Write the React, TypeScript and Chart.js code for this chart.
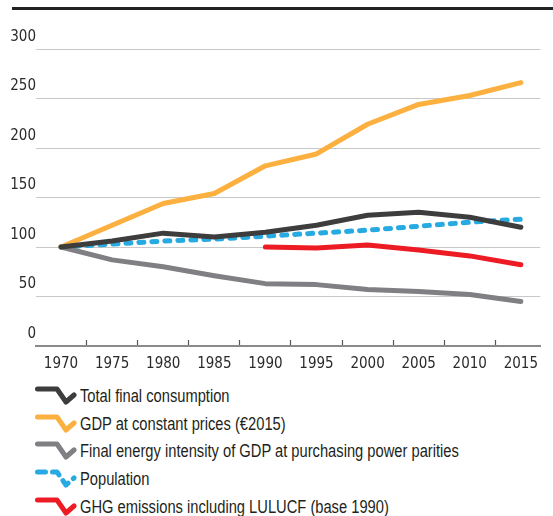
import React, { useEffect, useRef } from 'react';
import { Chart, registerables } from 'chart.js';

Chart.register(...registerables);

const years = [1970, 1975, 1980, 1985, 1990, 1995, 2000, 2005, 2010, 2015];
const yTicks = [0, 50, 100, 150, 200, 250, 300];

const totalFinalConsumption = [100, 106, 114, 110, 115, 122, 132, 135, 130, 120];
const gdpConstantPrices = [100, 122, 144, 154, 182, 194, 224, 244, 253, 266];
const finalEnergyIntensity = [100, 87, 80, 71, 63, 62, 57, 55, 52, 45];
const population = [100, 103, 106, 108, 111, 114, 117, 121, 125, 128];
const ghgEmissions = [null, null, null, null, 100, 99, 102, 97, 91, 82];

const seriesNames = [
  'Total final consumption',
  'GDP at constant prices (€2015)',
  'Final energy intensity of GDP at purchasing power parities',
  'Population',
  'GHG emissions including LULUCF (base 1990)',
];
const seriesColors = ['#3d3d3d', '#fbb040', '#808084', '#27aae1', '#ed1c24'];
const seriesDashed = [false, false, false, true, false];

const TICK_FONT = '"DejaVu Sans Condensed", "Liberation Sans", sans-serif';
const LEGEND_FONT = '"Liberation Sans", "DejaVu Sans Condensed", sans-serif';

function LegendIcon({ color, dashed }: { color: string; dashed: boolean }) {
  return (
    <svg width={42} height={22} style={{ display: 'block', flex: 'none' }}>
      <polyline
        points="2.5,4 22,4 31,17 39,10"
        fill="none"
        stroke={color}
        strokeWidth={5}
        strokeLinecap="round"
        strokeLinejoin="round"
        strokeDasharray={dashed ? '8 7' : undefined}
      />
    </svg>
  );
}

export default function App() {
  const ref = useRef<HTMLCanvasElement>(null);

  useEffect(() => {
    const toPts = (arr: (number | null)[]) => years.map((y, i) => ({ x: y, y: arr[i] }));
    const all = [totalFinalConsumption, gdpConstantPrices, finalEnergyIntensity, population, ghgEmissions];
    const chart = new Chart(ref.current as HTMLCanvasElement, {
      type: 'line',
      data: {
        datasets: all.map((arr, i) => ({
          label: seriesNames[i],
          data: toPts(arr) as any,
          borderColor: seriesColors[i],
          backgroundColor: seriesColors[i],
          borderWidth: 5,
          borderDash: seriesDashed[i] ? [5, 8] : [],
          borderCapStyle: 'round',
          borderJoinStyle: 'round',
          pointRadius: 0,
          tension: 0,
          spanGaps: false,
          fill: false,
        })),
      },
      options: {
        animation: false,
        responsive: false,
        maintainAspectRatio: false,
        layout: { padding: { top: 49, left: 0, right: 0, bottom: 0 } },
        plugins: { legend: { display: false }, tooltip: { enabled: false } },
        scales: {
          x: {
            type: 'linear',
            position: 'bottom',
            min: 1967.55,
            max: 2016.9,
            afterBuildTicks: (s: any) => {
              s.ticks = years.map((v) => ({ value: v }));
            },
            afterFit: (s: any) => {
              s.height = 35;
            },
            ticks: {
              autoSkip: false,
              maxRotation: 0,
              padding: 15,
              color: '#2a2a2a',
              font: { family: TICK_FONT, size: 15 },
              callback: (v: any) => String(v),
            },
            grid: {
              offset: true,
              drawOnChartArea: false,
              drawTicks: true,
              tickLength: -6,
              tickColor: '#555',
              tickWidth: 1.2,
            },
            border: { display: true, color: '#8a8a8a', width: 2 },
          },
          y: {
            min: 0,
            max: 300,
            afterBuildTicks: (s: any) => {
              s.ticks = yTicks.map((v) => ({ value: v }));
            },
            afterFit: (s: any) => {
              s.width = 36;
            },
            ticks: {
              padding: 0,
              labelOffset: -12,
              color: '#2a2a2a',
              font: { family: TICK_FONT, size: 15 },
              callback: (v: any) => String(v),
            },
            grid: { color: '#c8c8c8', lineWidth: 1, drawTicks: false },
            border: { display: false },
          },
        },
      },
    });
    return () => chart.destroy();
  }, []);

  return (
    <div style={{ position: 'absolute', left: 0, top: 0, width: 553, height: 516, background: '#fff', fontFamily: LEGEND_FONT }}>
      <div style={{ position: 'absolute', left: 12, top: 7, width: 541, height: 3, background: '#222' }} />
      <canvas ref={ref} width={553} height={381} style={{ position: 'absolute', left: 0, top: 0, width: 553, height: 381 }} />
      <div style={{ position: 'absolute', left: 35, top: 382 }}>
        {seriesNames.map((name, i) => (
          <div key={name} style={{ height: 27.75, display: 'flex', alignItems: 'center' }}>
            <LegendIcon color={seriesColors[i]} dashed={seriesDashed[i]} />
            <span
              style={{
                marginLeft: 3,
                fontSize: 17.5,
                color: '#231f20',
                whiteSpace: 'nowrap',
                lineHeight: '20px',
                display: 'inline-block',
                transform: 'scaleX(0.84)',
                transformOrigin: 'left center',
              }}
            >
              {name}
            </span>
          </div>
        ))}
      </div>
    </div>
  );
}
